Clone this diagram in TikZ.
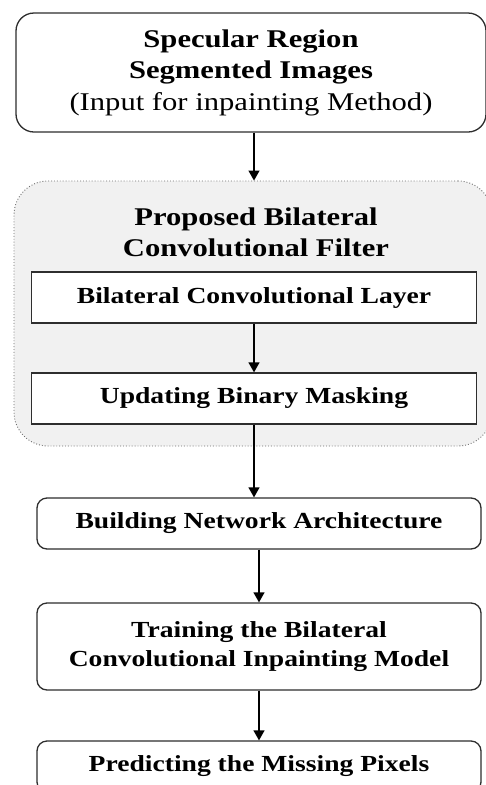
\documentclass[tikz,border=0pt]{standalone}
\usepackage{fontspec}
\setmainfont{Liberation Serif}[FakeStretch=1.2]
\usetikzlibrary{arrows.meta}
\definecolor{FrameGray}{HTML}{2E2E2E}
\definecolor{PanelGray}{HTML}{F1F1F1}
\definecolor{DotGray}{HTML}{6E6E6E}
\newcommand{\headsize}{\fontsize{25.5}{31.5}\selectfont}
\newcommand{\stepsize}{\fontsize{23}{29}\selectfont\bfseries}

\begin{document}
\begin{tikzpicture}[x=1pt,y=-1pt,
  roundbox/.style={draw=FrameGray,line width=1.3pt,rounded corners=10pt,fill=white,
    align=center,inner sep=0pt,minimum width=444pt,minimum height=51pt,font=\stepsize},
  sharpbox/.style={roundbox,rounded corners=0pt,minimum width=445pt},
  panel/.style={draw=DotGray,line width=0.9pt,dotted,fill=PanelGray,rounded corners=34pt},
  flow/.style={-{Triangle[width=11pt,length=10pt]},line width=1.3pt,black}]
\clip (0,0) rectangle (486,785);
\fill[white] (0,0) rectangle (486,785);
% input block
\node[roundbox,rounded corners=18pt,minimum width=470pt,minimum height=119pt,font=\headsize]
  (spec) at (251,72.5) {\textbf{Specular Region}\\\textbf{Segmented Images}\\(Input for inpainting Method)};
% filter panel
\node[panel,minimum width=478pt,minimum height=265pt] (filter) at (253,313.5) {};
\node[align=center,font=\headsize\bfseries] (filtertitle) at (256,232.5)
  {Proposed Bilateral\\Convolutional Filter};
\node[sharpbox] (layer) at (254,297.5) {Bilateral Convolutional Layer};
\node[sharpbox] (mask) at (254,398.5) {Updating Binary Masking};
% remaining steps
\node[roundbox] (build) at (259,523.5) {Building Network Architecture};
\node[roundbox,minimum height=87pt] (train) at (259,646.5)
  {Training the Bilateral\\Convolutional Inpainting Model};
\node[roundbox] (predict) at (259,766.5) {Predicting the Missing Pixels};
% connectors
\draw[flow] (spec.south -| layer.north) -- (filter.north -| layer.north);
\draw[flow] (layer) -- (mask);
\draw[flow] (mask.south) -- (build.north -| mask.south);
\draw[flow] (build) -- (train);
\draw[flow] (train) -- (predict);
\end{tikzpicture}
\end{document}
